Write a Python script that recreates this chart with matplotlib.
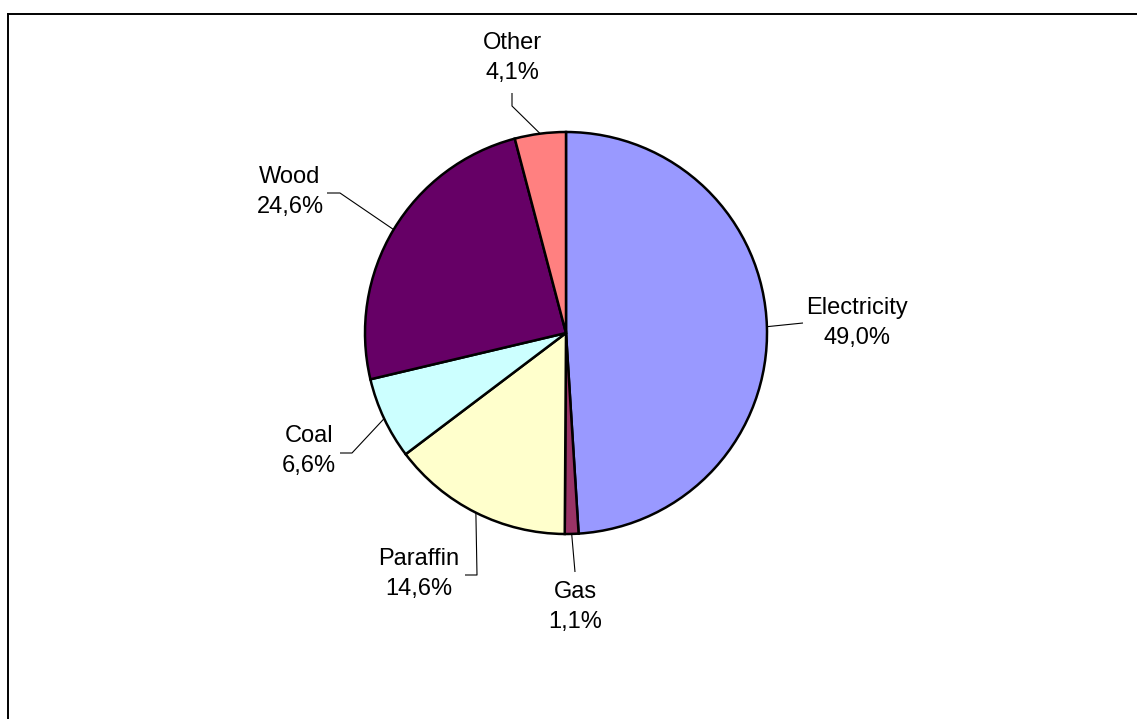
import numpy as np
import matplotlib
matplotlib.use("Agg")
import matplotlib.pyplot as plt
from matplotlib.lines import Line2D

categories = ["Electricity", "Gas", "Paraffin", "Coal", "Wood", "Other"]
shares = [49.0, 1.1, 14.6, 6.6, 24.6, 4.1]
colors = ["#9999FF", "#993366", "#FFFFCC", "#CCFFFF", "#660066", "#FF8080"]

W, H = 1137, 719
plt.rcParams['font.family'] = ['Liberation Sans', 'DejaVu Sans']

fig = plt.figure(figsize=(W / 100, H / 100), dpi=100)
ax = fig.add_axes([0, 0, 1, 1])


def py(y):
    return H - y

cx, cy, R = 566, py(333), 201
wedges, _ = ax.pie(shares, colors=colors, startangle=90, counterclock=False,
                   center=(cx, cy), radius=R,
                   wedgeprops=dict(edgecolor="black", linewidth=1.8))
ax.set_xlim(0, W)
ax.set_ylim(0, H)
ax.set_aspect('equal')
ax.axis('off')

# label layout (pixel coordinates from top-left): text center, leader path points
layout = {
    "Electricity": ((857, 323), [(803, 323)]),
    "Gas": ((575, 607), [(575, 572)]),
    "Paraffin": ((419, 574), [(477, 575), (465, 575)]),
    "Coal": ((309, 451), [(352, 453), (340, 453)]),
    "Wood": ((290, 192), [(340, 193), (327, 193)]),
    "Other": ((512, 58), [(512, 106), (512, 93)]),
}

for w, name, val in zip(wedges, categories, shares):
    mid = np.deg2rad((w.theta1 + w.theta2) / 2)
    sx, sy = cx + R * np.cos(mid), cy + R * np.sin(mid)
    (tx, ty), pts = layout[name]
    xs = [sx] + [p[0] for p in pts]
    ys = [sy] + [py(p[1]) for p in pts]
    ax.plot(xs, ys, color="black", lw=0.8, solid_capstyle='butt', zorder=0.5)
    label = f"{name}\n{val:.1f}%".replace(".", ",")
    ax.text(tx, py(ty), label, ha="center", va="center", fontsize=17,
            linespacing=1.42, color="black")

# chart frame (only top and left edges are inside the image)
fig.add_artist(Line2D([8 / W, 1.01], [1 - 14 / H, 1 - 14 / H], color="black", lw=1.4,
                      transform=fig.transFigure))
fig.add_artist(Line2D([8 / W, 8 / W], [1 - 14 / H, -0.01], color="black", lw=1.4,
                      transform=fig.transFigure))

fig.savefig("out.png", dpi=100, facecolor="white")
